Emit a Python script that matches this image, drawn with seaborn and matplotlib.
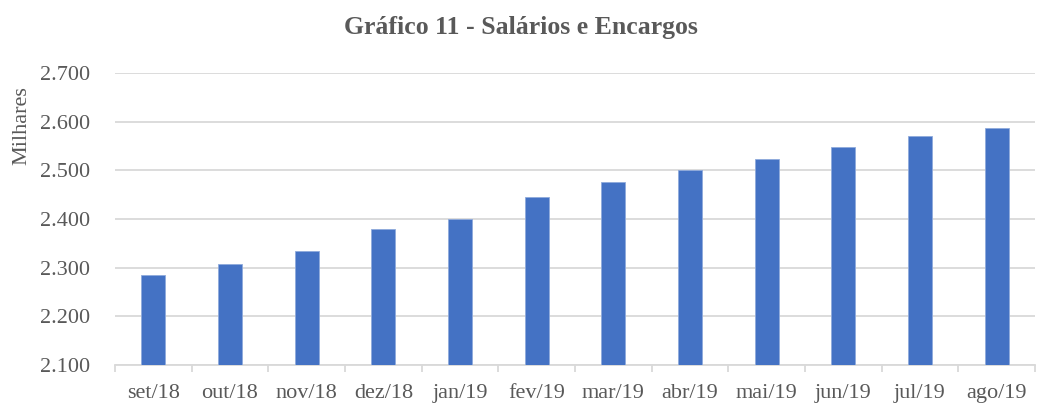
import numpy as np
import pandas as pd
import matplotlib
matplotlib.use("Agg")
import matplotlib.pyplot as plt
import seaborn as sns
from matplotlib.ticker import FuncFormatter, FixedLocator

# valores em milhares
meses = ["set/18", "out/18", "nov/18", "dez/18", "jan/19", "fev/19",
         "mar/19", "abr/19", "mai/19", "jun/19", "jul/19", "ago/19"]
valores = [2284, 2307, 2335, 2380, 2399, 2445,
           2476, 2500, 2523, 2547, 2571, 2586]
y_ticks = [2100, 2200, 2300, 2400, 2500, 2600, 2700]

df = pd.DataFrame({"mes": meses, "valor": valores})

sns.set_theme(style="white")
plt.rcParams["font.family"] = ["Liberation Serif", "DejaVu Serif"]
texto = "#595959"
grade = "#d9d9d9"

fig = plt.figure(figsize=(10.37, 4.07), dpi=100)
ax = fig.add_axes([115 / 1037, 1 - 365 / 407, 920 / 1037, 292 / 407])

sns.barplot(data=df, x="mes", y="valor", color="#4472C4", width=0.31,
            edgecolor="#8faadc", linewidth=0.6, saturation=1, ax=ax, zorder=3)

ax.set_ylim(y_ticks[0], y_ticks[-1])
ax.set_xlim(-0.5, len(meses) - 0.5)
ax.set_yticks(y_ticks)
ax.yaxis.set_major_formatter(FuncFormatter(lambda v, p: f"{v:,.0f}".replace(",", ".")))
ax.yaxis.grid(True, color=grade, linewidth=1.3, zorder=0)
ax.set_axisbelow(True)

for s in ["top", "right", "left"]:
    ax.spines[s].set_visible(False)
ax.spines["bottom"].set_color(grade)
ax.spines["bottom"].set_linewidth(1.3)

ax.tick_params(axis="y", length=0, labelsize=16, labelcolor=texto, pad=18)
ax.tick_params(axis="x", which="major", bottom=True, length=0, labelsize=16,
               labelcolor=texto, pad=14)
ax.xaxis.set_minor_locator(FixedLocator(np.arange(-0.5, len(meses), 1.0)))
ax.tick_params(axis="x", which="minor", bottom=True, length=5, width=1.3,
               color=grade, direction="out")

ax.set_xlabel("")
ax.set_ylabel("Milhares", fontsize=16, color=texto)
ax.yaxis.set_label_coords(-0.091, 0.82)

fig.suptitle("Gráfico 11 - Salários e Encargos", fontsize=18.5, fontweight="bold",
             color=texto, x=521 / 1037, y=1 - 16 / 407, va="top")

fig.savefig("out.png", dpi=100)
